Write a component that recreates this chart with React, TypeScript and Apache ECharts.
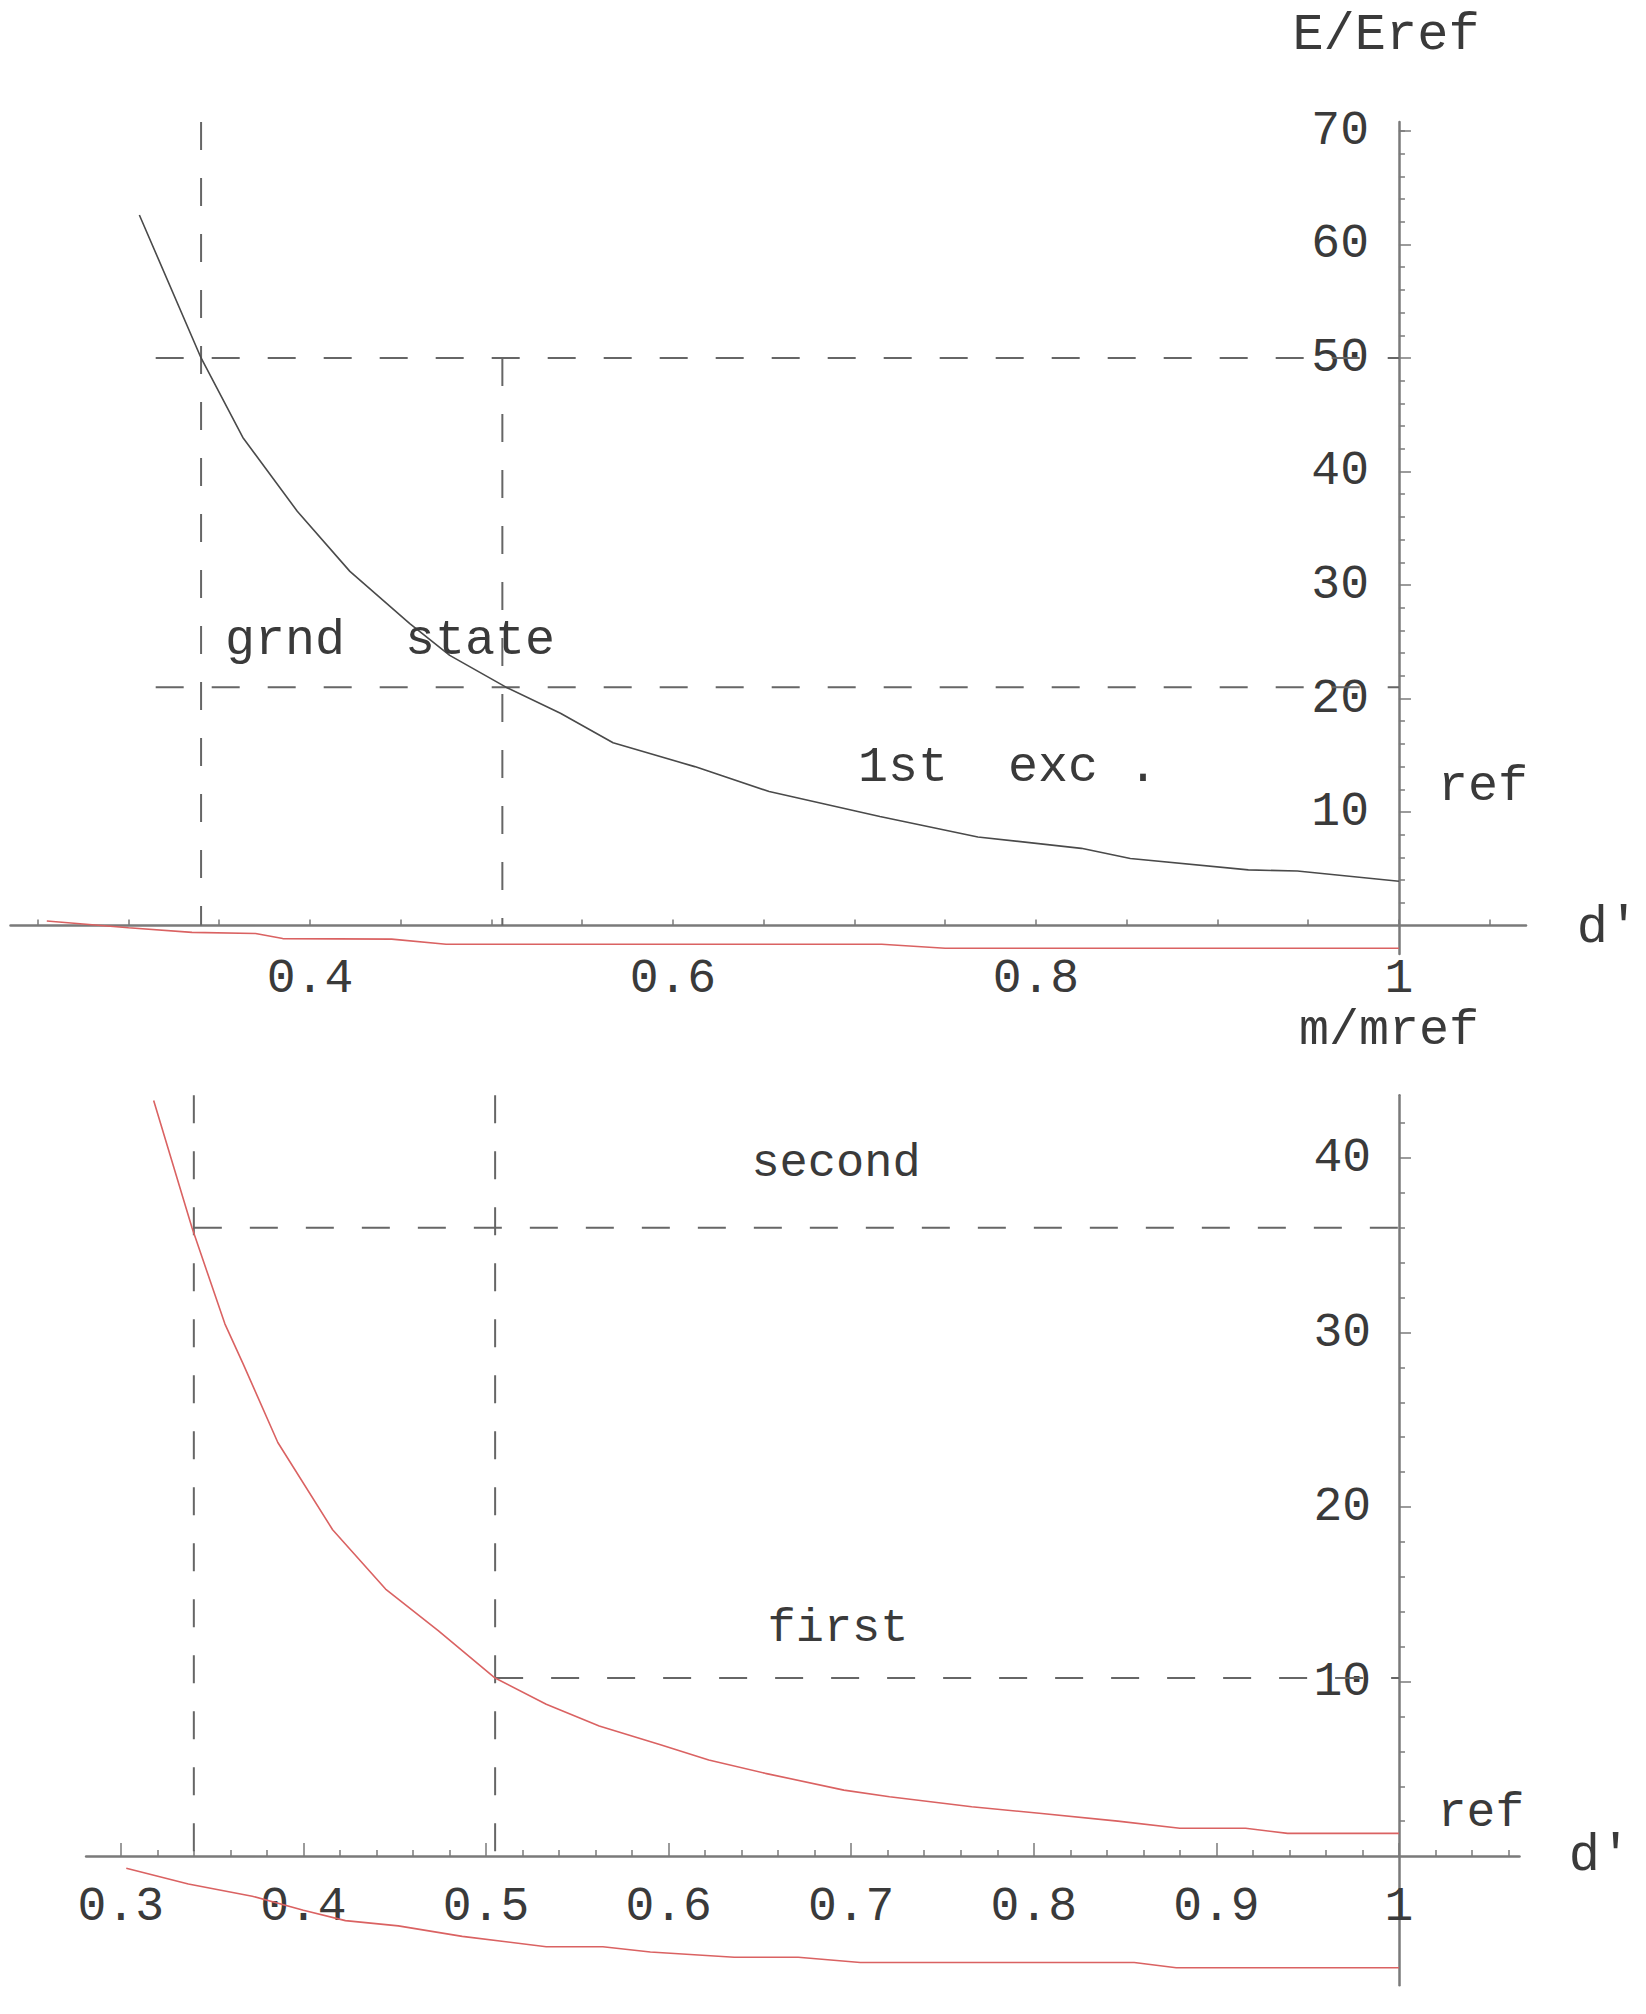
import React, { useEffect, useRef } from "react";
import * as echarts from "echarts";

// ---------- Top panel: E/Eref vs d' ----------
const topGroundX = [0.306, 0.34, 0.363, 0.393, 0.422, 0.455, 0.477, 0.508, 0.538, 0.567, 0.612, 0.653, 0.714, 0.768, 0.825, 0.852, 0.917, 0.944, 1.0];
const topGroundY = [62.6, 50.0, 43.0, 36.5, 31.2, 26.6, 23.8, 21.0, 18.7, 16.1, 14.0, 11.8, 9.6, 7.8, 6.8, 5.9, 4.9, 4.8, 3.9];
const topRedX = [0.255, 0.30, 0.335, 0.37, 0.385, 0.445, 0.475, 0.715, 0.75, 1.0];
const topRedY = [0.4, -0.2, -0.6, -0.7, -1.15, -1.2, -1.65, -1.65, -2.0, -2.0];
const topGuides = [
  [[0.34, 70.8], [0.34, 0]],
  [[0.506, 50], [0.506, 0]],
  [[0.315, 50], [1, 50]],
  [[0.315, 21], [1, 21]],
];
const topXTicks = [0.25, 0.3, 0.35, 0.4, 0.45, 0.5, 0.55, 0.6, 0.65, 0.7, 0.75, 0.8, 0.85, 0.9, 0.95, 1.0, 1.05];
const topXLabels = [0.4, 0.6, 0.8, 1];
const topYMajor = [10, 20, 30, 40, 50, 60, 70];
const topYMinor = [2, 4, 6, 8, 12, 14, 16, 18, 22, 24, 26, 28, 32, 34, 36, 38, 42, 44, 46, 48, 52, 54, 56, 58, 62, 64, 66, 68, 70];

// ---------- Bottom panel: m/mref vs d' ----------
const botUpperX = [0.318, 0.339, 0.357, 0.367, 0.386, 0.416, 0.445, 0.474, 0.505, 0.533, 0.562, 0.596, 0.622, 0.653, 0.696, 0.721, 0.766, 0.803, 0.846, 0.880, 0.916, 0.939, 1.0];
const botUpperY = [43.3, 36.0, 30.5, 28.2, 23.7, 18.7, 15.3, 12.9, 10.2, 8.7, 7.45, 6.36, 5.5, 4.74, 3.78, 3.4, 2.83, 2.45, 2.0, 1.59, 1.59, 1.3, 1.3];
const botLowerX = [0.303, 0.337, 0.372, 0.40, 0.423, 0.452, 0.487, 0.533, 0.564, 0.590, 0.636, 0.671, 0.705, 0.855, 0.878, 1.0];
const botLowerY = [-0.7, -1.6, -2.3, -3.1, -3.7, -4.0, -4.6, -5.2, -5.2, -5.5, -5.8, -5.8, -6.1, -6.1, -6.4, -6.4];
const botGuides = [
  [[0.34, 43.6], [0.34, 0]],
  [[0.505, 43.6], [0.505, 0]],
  [[0.34, 36], [1, 36]],
  [[0.505, 10.2], [1, 10.2]],
];
const botXMajor = [0.3, 0.4, 0.5, 0.6, 0.7, 0.8, 0.9, 1.0];
const botXMinor = [0.32, 0.34, 0.36, 0.38, 0.42, 0.44, 0.46, 0.48, 0.52, 0.54, 0.56, 0.58, 0.62, 0.64, 0.66, 0.68, 0.72, 0.74, 0.76, 0.78, 0.82, 0.84, 0.86, 0.88, 0.92, 0.94, 0.96, 0.98, 1.02, 1.04, 1.06];
const botXLabels = [0.3, 0.4, 0.5, 0.6, 0.7, 0.8, 0.9, 1];
const botYMajor = [10, 20, 30, 40];
const botYMinor = [2, 4, 6, 8, 12, 14, 16, 18, 22, 24, 26, 28, 32, 34, 36, 38, 42];

const zip = (xs: number[], ys: number[]) => xs.map((x, i) => [x, ys[i]]);

const FONT = "Liberation Mono, Courier New, monospace";
const AXIS_COLOR = "#7a7a7a";
const TEXT_COLOR = "#3a3a3a";
const DASH_COLOR = "#666666";
const RED = "#da6262";

function App() {
  const ref = useRef<HTMLDivElement>(null);

  useEffect(() => {
    document.body.style.margin = "0";
    document.body.style.overflow = "hidden";
    if (!ref.current) return;
    const chart = echarts.init(ref.current, null, { renderer: "svg" });

    // top geometry
    const tMin = 0.235, tMax = 1.07;
    const tLeft = 10.5, tWidth = 1515.5;
    const tTop = 121.9, tHeight = 832;
    const tOffset = -((tMax - 1) / (tMax - tMin)) * tWidth;
    // bottom geometry
    const bMin = 0.281, bMax = 1.066;
    const bLeft = 86.1, bWidth = 1433.4;
    const bTop = 1095.2, bHeight = 890;
    const bOffset = -((bMax - 1) / (bMax - bMin)) * bWidth;

    const tickLabel = {
      fontFamily: FONT,
      fontSize: 48,
      color: TEXT_COLOR,
    };

    const dashedSeries = (guides: number[][][], xi: number, yi: number) =>
      guides.map((g) => ({
        type: "line",
        xAxisIndex: xi,
        yAxisIndex: yi,
        data: g,
        symbol: "none",
        silent: true,
        z: 1,
        lineStyle: { color: DASH_COLOR, width: 2, type: [28, 28] },
      }));

    const option: any = {
      animation: false,
      backgroundColor: "#ffffff",
      grid: [
        { left: tLeft, top: tTop, width: tWidth, height: tHeight, containLabel: false, outerBoundsMode: "none" },
        { left: bLeft, top: bTop, width: bWidth, height: bHeight, containLabel: false, outerBoundsMode: "none" },
      ],
      xAxis: [
        {
          type: "value", gridIndex: 0, min: tMin, max: tMax, position: "bottom",
          axisLine: { show: true, onZero: true, lineStyle: { color: AXIS_COLOR, width: 2.5 } },
          axisTick: { show: true, inside: true, length: 6, customValues: topXTicks, lineStyle: { color: AXIS_COLOR, width: 1.5 } },
          axisLabel: { show: true, margin: 1, customValues: topXLabels, formatter: (v: number) => String(v), ...tickLabel },
          splitLine: { show: false },
        },
        {
          type: "value", gridIndex: 1, min: bMin, max: bMax, position: "bottom",
          axisLine: { show: true, onZero: true, lineStyle: { color: AXIS_COLOR, width: 2.5 } },
          axisTick: { show: true, inside: true, length: 13, customValues: botXMajor, lineStyle: { color: AXIS_COLOR, width: 1.5 } },
          axisLabel: { show: true, margin: -102, customValues: botXLabels, formatter: (v: number) => String(v), ...tickLabel },
          splitLine: { show: false },
        },
        {
          type: "value", gridIndex: 1, min: bMin, max: bMax, position: "bottom",
          axisLine: { show: false, onZero: true },
          axisTick: { show: true, inside: true, length: 6, customValues: botXMinor, lineStyle: { color: AXIS_COLOR, width: 1.5 } },
          axisLabel: { show: false },
          splitLine: { show: false },
        },
      ],
      yAxis: [
        {
          type: "value", gridIndex: 0, min: -2.5, max: 70.8, position: "right", offset: tOffset,
          axisLine: { show: true, onZero: false, lineStyle: { color: AXIS_COLOR, width: 2.5 } },
          axisTick: { show: true, inside: false, length: 12, customValues: topYMajor, lineStyle: { color: AXIS_COLOR, width: 1.5 } },
          axisLabel: { show: true, inside: true, margin: 30, customValues: topYMajor, ...tickLabel },
          splitLine: { show: false },
        },
        {
          type: "value", gridIndex: 0, min: -2.5, max: 70.8, position: "right", offset: tOffset,
          axisLine: { show: false, onZero: false },
          axisTick: { show: true, inside: false, length: 6, customValues: topYMinor, lineStyle: { color: AXIS_COLOR, width: 1.5 } },
          axisLabel: { show: false },
          splitLine: { show: false },
        },
        {
          type: "value", gridIndex: 1, min: -7.4, max: 43.6, position: "right", offset: bOffset,
          axisLine: { show: true, onZero: false, lineStyle: { color: AXIS_COLOR, width: 2.5 } },
          axisTick: { show: true, inside: false, length: 12, customValues: botYMajor, lineStyle: { color: AXIS_COLOR, width: 1.5 } },
          axisLabel: { show: true, inside: true, margin: 28, customValues: botYMajor, ...tickLabel },
          splitLine: { show: false },
        },
        {
          type: "value", gridIndex: 1, min: -7.4, max: 43.6, position: "right", offset: bOffset,
          axisLine: { show: false, onZero: false },
          axisTick: { show: true, inside: false, length: 6, customValues: botYMinor, lineStyle: { color: AXIS_COLOR, width: 1.5 } },
          axisLabel: { show: false },
          splitLine: { show: false },
        },
      ],
      series: [
        ...dashedSeries(topGuides, 0, 0),
        ...dashedSeries(botGuides, 1, 2),
        {
          type: "line", xAxisIndex: 0, yAxisIndex: 0, data: zip(topGroundX, topGroundY),
          symbol: "none", silent: true, z: 3,
          lineStyle: { color: "#4a4a4a", width: 1.6 },
        },
        {
          type: "line", xAxisIndex: 0, yAxisIndex: 0, data: zip(topRedX, topRedY),
          symbol: "none", silent: true, z: 3,
          lineStyle: { color: RED, width: 1.6 },
        },
        {
          type: "line", xAxisIndex: 1, yAxisIndex: 2, data: zip(botUpperX, botUpperY),
          symbol: "none", silent: true, z: 3,
          lineStyle: { color: RED, width: 1.6 },
        },
        {
          type: "line", xAxisIndex: 1, yAxisIndex: 2, data: zip(botLowerX, botLowerY),
          symbol: "none", silent: true, z: 3,
          lineStyle: { color: RED, width: 1.6 },
        },
      ],
      graphic: [
        txt("E/Eref", 1386, 35, 52, "center"),
        txt("d'", 1608, 928, 52, "center"),
        txt("m/mref", 1389, 1030, 50, "center"),
        txt("ref", 1483, 786, 50, "center"),
        txt("grnd  state", 225, 640, 50, "left"),
        txt("1st  exc .", 858, 767, 50, "left"),
        txt("second", 836, 1163, 47, "center"),
        txt("first", 838, 1628, 47, "center"),
        txt("ref", 1481, 1813, 48, "center"),
        txt("d'", 1600, 1856, 52, "center"),
      ],
    };

    chart.setOption(option);
    return () => chart.dispose();
  }, []);

  return <div ref={ref} style={{ width: 1646, height: 2014 }} />;
}

function txt(text: string, x: number, y: number, size: number, align: string) {
  return {
    type: "text",
    x,
    y,
    silent: true,
    z: 10,
    style: {
      text,
      font: `${size}px ${FONT}`,
      fill: TEXT_COLOR,
      align,
      verticalAlign: "middle",
      textAlign: align,
      textVerticalAlign: "middle",
    },
  };
}

export default App;
